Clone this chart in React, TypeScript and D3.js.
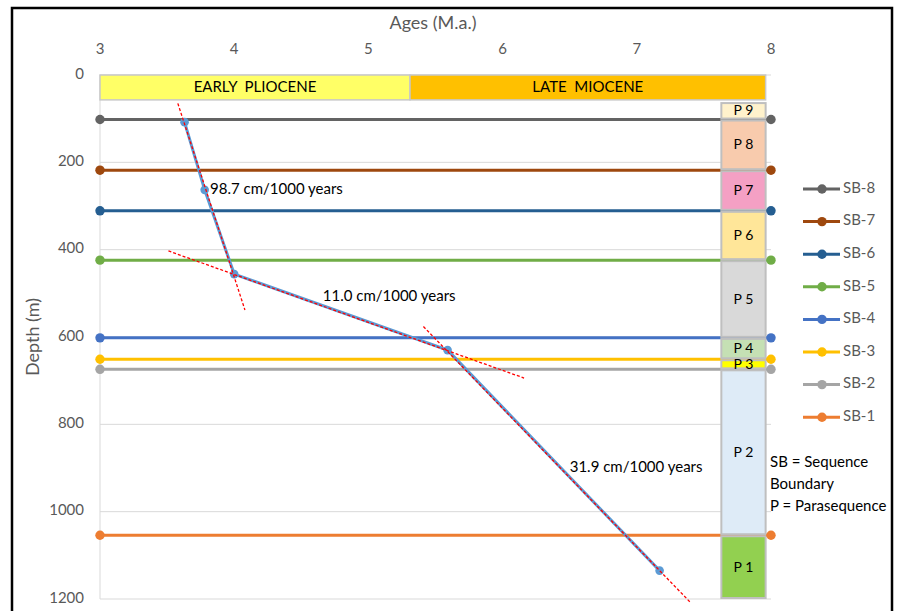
import React from "react";
import { scaleLinear, line } from "d3";

// sequence boundaries (depth in m)
const sbNames = ["SB-8", "SB-7", "SB-6", "SB-5", "SB-4", "SB-3", "SB-2", "SB-1"];
const sbDepths = [102, 218, 311, 424, 602, 651, 674, 1054];

const sbColors: Record<string, string> = {
  "SB-8": "#636363",
  "SB-7": "#9E480E",
  "SB-6": "#255E91",
  "SB-5": "#70AD47",
  "SB-4": "#4472C4",
  "SB-3": "#FFC000",
  "SB-2": "#A5A5A5",
  "SB-1": "#ED7D31",
};

// parasequences
const psNames = ["P 9", "P 8", "P 7", "P 6", "P 5", "P 4", "P 3", "P 2", "P 1"];
const psTops = [62, 102, 218, 311, 424, 602, 651, 674, 1054];
const psBases = [102, 218, 311, 424, 602, 651, 674, 1054, 1200];
const psColors: Record<string, string> = {
  "P 9": "#FFF2CC",
  "P 8": "#F8CBAD",
  "P 7": "#F4A0C4",
  "P 6": "#FFE699",
  "P 5": "#D9D9D9",
  "P 4": "#C5E0B4",
  "P 3": "#FFFF00",
  "P 2": "#DEEBF7",
  "P 1": "#92D050",
};

// epochs (age in M.a.)
const epochNames = ["EARLY  PLIOCENE", "LATE  MIOCENE"];
const epochFrom = [3, 5.31];
const epochTo = [5.31, 7.96];
const epochColors = ["#FFFF66", "#FFC000"];
const epochDepth = 57;

// age-depth points
const pointAges = [3.63, 3.78, 4.0, 5.59, 7.17];
const pointDepths = [108, 263, 456, 630, 1135];

// trend lines (age, depth) endpoints
const trendAges = [
  [3.58, 4.08],
  [3.51, 6.16],
  [5.41, 7.4],
];
const trendDepths = [
  [65, 538],
  [403, 694],
  [576, 1208],
];
const rateLabels = ["98.7 cm/1000 years", "11.0 cm/1000 years", "31.9 cm/1000 years"];
const rateAges = [3.82, 4.66, 6.5];
const rateDepths = [263, 509, 901];

const xTicks = [3, 4, 5, 6, 7, 8];
const yTicks = [0, 200, 400, 600, 800, 1000, 1200];

const psAgeFrom = 7.63;
const psAgeTo = 7.96;

const FONT = "Lato, 'Open Sans', sans-serif";
const GREY = "#595959";
const FS = 15;

export default function App() {
  const width = 898;
  const height = 611;
  const x = scaleLinear().domain([3, 8]).range([100, 771]);
  const y = scaleLinear().domain([0, 1200]).range([75, 599]);

  const seriesLine = line<number>()
    .x((_, i) => x(pointAges[i]))
    .y((d) => y(d));

  return (
    <svg
      width={width}
      height={height}
      style={{ position: "absolute", left: 0, top: 0, background: "#fff" }}
      fontFamily={FONT}
    >
      <rect x={0} y={0} width={width} height={height} fill="#fff" />

      {/* gridlines */}
      {yTicks.map((t) => (
        <line key={t} x1={x(3)} x2={x(8)} y1={y(t)} y2={y(t)} stroke="#D9D9D9" strokeWidth={1} />
      ))}
      <line x1={x(3)} x2={x(3)} y1={y(0)} y2={y(1200)} stroke="#D9D9D9" strokeWidth={1} />

      {/* axis labels */}
      {xTicks.map((t) => (
        <text key={t} x={x(t)} y={50} textAnchor="middle" dominantBaseline="middle" fontSize={FS} fill={GREY}>
          {t}
        </text>
      ))}
      {yTicks.map((t) => (
        <text key={t} x={84} y={y(t)} textAnchor="end" dominantBaseline="middle" fontSize={FS} fill={GREY}>
          {t}
        </text>
      ))}
      <text x={433} y={24} textAnchor="middle" dominantBaseline="middle" fontSize={18} fill={GREY}>
        Ages (M.a.)
      </text>
      <text
        transform={`translate(34, ${(y(0) + y(1200)) / 2}) rotate(-90)`}
        textAnchor="middle"
        dominantBaseline="middle"
        fontSize={18}
        fill={GREY}
      >
        Depth (m)
      </text>

      {/* epochs */}
      {epochNames.map((n, i) => (
        <g key={n}>
          <rect
            x={x(epochFrom[i])}
            y={y(0)}
            width={x(epochTo[i]) - x(epochFrom[i])}
            height={y(epochDepth) - y(0)}
            fill={epochColors[i]}
            stroke="#C8C8C8"
            strokeWidth={1.5}
          />
          <text
            x={(x(epochFrom[i]) + x(epochTo[i])) / 2}
            y={(y(0) + y(epochDepth)) / 2 + 1}
            textAnchor="middle"
            dominantBaseline="middle"
            fontSize={FS}
            fill="#000"
            style={{ whiteSpace: "pre" }}
          >
            {n}
          </text>
        </g>
      ))}

      {/* sequence boundary lines */}
      {sbNames.map((n, i) => (
        <g key={n}>
          <line x1={x(3)} x2={x(8)} y1={y(sbDepths[i])} y2={y(sbDepths[i])} stroke={sbColors[n]} strokeWidth={3} />
          <circle cx={x(3)} cy={y(sbDepths[i])} r={4.7} fill={sbColors[n]} />
        </g>
      ))}

      {/* parasequence column */}
      {psNames.map((n, i) => (
        <g key={n}>
          <rect
            x={x(psAgeFrom)}
            y={y(psTops[i]) + 1}
            width={x(psAgeTo) - x(psAgeFrom)}
            height={y(psBases[i]) - y(psTops[i]) - 2}
            fill={psColors[n]}
            stroke="#BFBFBF"
            strokeWidth={2}
          />
          <text
            x={(x(psAgeFrom) + x(psAgeTo)) / 2}
            y={(y(psTops[i]) + y(psBases[i])) / 2 + 1}
            textAnchor="middle"
            dominantBaseline="middle"
            fontSize={14}
            fill="#000"
          >
            {n}
          </text>
        </g>
      ))}
      {sbNames.map((n, i) => (
        <circle key={n} cx={x(8)} cy={y(sbDepths[i])} r={4.7} fill={sbColors[n]} />
      ))}

      {/* age-depth series */}
      <path d={seriesLine(pointDepths) || ""} fill="none" stroke="#5B9BD5" strokeWidth={3} />
      {pointDepths.map((d, i) => (
        <circle key={i} cx={x(pointAges[i])} cy={y(d)} r={4.3} fill="#5B9BD5" />
      ))}

      {/* trend lines */}
      {trendAges.map((a, i) => (
        <line
          key={i}
          x1={x(a[0])}
          x2={x(a[1])}
          y1={y(trendDepths[i][0])}
          y2={y(trendDepths[i][1])}
          stroke="#FF0000"
          strokeWidth={1.3}
          strokeDasharray="3 2"
        />
      ))}
      {rateLabels.map((l, i) => (
        <text key={l} x={x(rateAges[i])} y={y(rateDepths[i])} dominantBaseline="middle" fontSize={FS} fill="#000">
          {l}
        </text>
      ))}

      {/* legend */}
      {sbNames.map((n, i) => {
        const ly = 189 + i * 32.6;
        return (
          <g key={n}>
            <line x1={803} x2={840} y1={ly} y2={ly} stroke={sbColors[n]} strokeWidth={3} />
            <circle cx={822} cy={ly} r={4.7} fill={sbColors[n]} />
            <text x={843} y={ly} dominantBaseline="middle" fontSize={FS} fill={GREY}>
              {n}
            </text>
          </g>
        );
      })}

      {/* note */}
      <text fontSize={FS} fill="#000">
        <tspan x={770} y={467}>SB = Sequence</tspan>
        <tspan x={770} y={489}>Boundary</tspan>
        <tspan x={770} y={511}>P = Parasequence</tspan>
      </text>

      {/* frame */}
      <rect x={12} y={8} width={880} height={640} fill="none" stroke="#000" strokeWidth={2.5} />
    </svg>
  );
}
